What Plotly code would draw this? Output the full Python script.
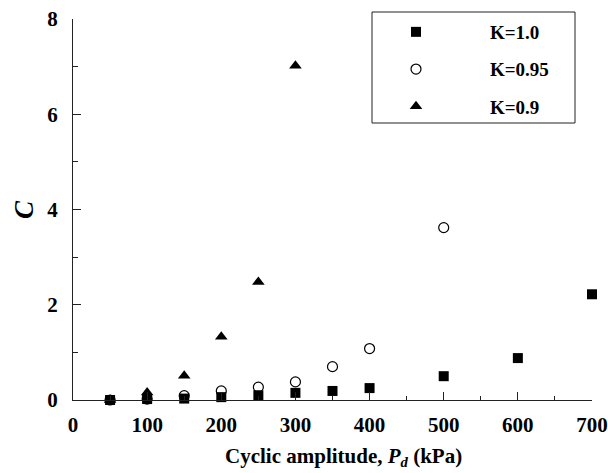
import plotly.graph_objects as go

# Data
x_k10 = [50, 100, 150, 200, 250, 300, 350, 400, 500, 600, 700]
c_k10 = [0.0, 0.02, 0.03, 0.06, 0.10, 0.15, 0.19, 0.25, 0.50, 0.88, 2.22]

x_k095 = [50, 100, 150, 200, 250, 300, 350, 400, 500]
c_k095 = [0.0, 0.02, 0.09, 0.19, 0.27, 0.38, 0.70, 1.08, 3.62]

x_k09 = [50, 100, 150, 200, 250, 300]
c_k09 = [0.0, 0.16, 0.51, 1.33, 2.48, 7.02]

names = ["K=1.0", "K=0.95", "K=0.9"]

W, H = 608, 473
L, R, T, B = 73, 16, 19, 73
pw = W - L - R
ph = H - T - B

def px2paper_x(px):
    return (px - L) / pw

def px2paper_y(py):
    return (H - B - py) / ph

fig = go.Figure()
fig.add_trace(go.Scatter(x=x_k10, y=c_k10, mode="markers", name="<b>" + names[0] + "</b>",
                         legendgroup="a", cliponaxis=False,
                         marker=dict(symbol="square", size=10, color="black", line=dict(width=0))))
fig.add_trace(go.Scatter(x=x_k095, y=c_k095, mode="markers", name="<b>" + names[1] + "</b>",
                         legendgroup="b", cliponaxis=False,
                         marker=dict(symbol="circle-open", size=10, color="black", line=dict(width=1.2))))
fig.add_trace(go.Scatter(x=x_k09, y=c_k09, mode="markers", name="<b>" + names[2] + "</b>",
                         legendgroup="c", cliponaxis=False,
                         marker=dict(symbol="triangle-up", size=11, color="black", line=dict(width=0))))

axis_font = dict(family="Liberation Serif", size=21, color="black", weight="bold")
fig.update_layout(
    width=W, height=H,
    margin=dict(l=L, r=R, t=T, b=B, autoexpand=False),
    paper_bgcolor="white", plot_bgcolor="white",
    showlegend=True,
    legend=dict(
        x=px2paper_x(342), y=px2paper_y(13), xanchor="left", yanchor="top",
        bgcolor="rgba(0,0,0,0)", borderwidth=0,
        font=dict(family="Liberation Serif", size=19, color="black"),
        itemwidth=138, tracegroupgap=9.5,
    ),
    xaxis=dict(
        range=[0, 700], showgrid=False, zeroline=False,
        showline=True, linecolor="#222", linewidth=1,
        ticks="inside", ticklen=8, tickcolor="#222", tickwidth=1,
        dtick=100, tick0=0, tickfont=axis_font, ticklabelstandoff=6,
        minor=dict(dtick=50, ticks="inside", ticklen=4, tickcolor="#222", tickwidth=1),
    ),
    yaxis=dict(
        range=[0, 8], showgrid=False, zeroline=False,
        showline=True, linecolor="#222", linewidth=1,
        ticks="inside", ticklen=8, tickcolor="#222", tickwidth=1,
        dtick=2, tick0=0, tickfont=axis_font, ticklabelstandoff=10,
        minor=dict(dtick=1, ticks="inside", ticklen=5, tickcolor="#222", tickwidth=1),
    ),
    shapes=[dict(type="rect", xref="paper", yref="paper",
                 x0=px2paper_x(372), x1=px2paper_x(575),
                 y0=px2paper_y(123), y1=px2paper_y(12),
                 line=dict(color="#222", width=1), fillcolor="rgba(0,0,0,0)")],
    annotations=[
        dict(text="<b>Cyclic amplitude, <i>P<sub>d</sub></i> (kPa)</b>",
             xref="paper", yref="paper", x=px2paper_x(343), y=px2paper_y(457),
             xanchor="center", yanchor="middle", showarrow=False,
             font=dict(family="Liberation Serif", size=21, color="black")),
        dict(text="<b><i>C</i></b>",
             xref="paper", yref="paper", x=px2paper_x(24), y=px2paper_y(210),
             xanchor="center", yanchor="middle", showarrow=False, textangle=-90,
             font=dict(family="Liberation Serif", size=27, color="black")),
    ],
)

fig.write_html("out.html", config={"displayModeBar": False})
